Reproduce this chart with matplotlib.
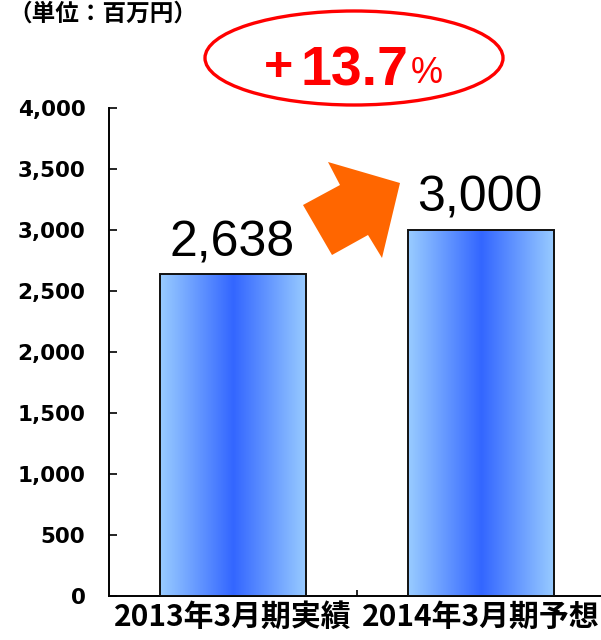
import matplotlib
matplotlib.use('Agg')
import matplotlib.pyplot as plt
import numpy as np
from matplotlib.patches import Ellipse, Polygon
from matplotlib.colors import LinearSegmentedColormap

plt.rcParams['font.family'] = ['Noto Sans CJK JP', 'DejaVu Sans']

# データ
categories = ['2013年3月期実績', '2014年3月期予想']
values = [2638, 3000]
value_labels = ['2,638', '3,000']
yticks = [0, 500, 1000, 1500, 2000, 2500, 3000, 3500, 4000]
ytick_labels = ['0', '500', '1,000', '1,500', '2,000', '2,500', '3,000', '3,500', '4,000']
growth_text = '13.7'

W, H = 601, 640
fig = plt.figure(figsize=(W / 100, H / 100), dpi=100)
ax = fig.add_axes([109 / W, 44 / H, 496 / W, 488 / H])

def fx(x):
    return x / W

def fy(y):
    return 1 - y / H

# グラデーション棒
cmap = LinearSegmentedColormap.from_list('bar', ['#99ccff', '#3366ff', '#99ccff'])
grad = np.linspace(0, 1, 256).reshape(1, -1)
x = np.arange(len(categories))
bars = ax.bar(x, values, width=0.59, facecolor='none', edgecolor='#111111', linewidth=1.4, zorder=3)
for bar in bars:
    x0, y0 = bar.get_x(), bar.get_y()
    im = ax.imshow(grad, cmap=cmap, aspect='auto', interpolation='bicubic',
                   extent=[x0, x0 + bar.get_width(), y0, y0 + bar.get_height()], zorder=2)
    im.set_clip_path(bar)

for xi, v, lab in zip(x, values, value_labels):
    ax.annotate(lab, (xi, v), xytext=(-1, 13), textcoords='offset points',
                ha='center', va='baseline', fontsize=36, fontweight='medium',
                family=['Liberation Sans', 'DejaVu Sans'], zorder=5)

ax.set_xlim(-0.5, 1.5)
ax.set_ylim(0, 4000)
ax.set_yticks(yticks)
ax.set_yticklabels(ytick_labels, fontsize=15.5, fontweight='bold', family=['DejaVu Sans'])
ax.tick_params(axis='y', direction='in', length=6, width=1.2, pad=17)

ax.set_xticks([0.5])
ax.set_xticklabels([''])
ax.tick_params(axis='x', which='major', direction='in', length=4, width=1.2)
ax.set_xticks(x, minor=True)
ax.set_xticklabels(categories, minor=True, fontsize=21.5, fontweight='bold')
ax.tick_params(axis='x', which='minor', length=0, pad=4)

for s in ['top', 'right']:
    ax.spines[s].set_visible(False)
for s in ['left', 'bottom']:
    ax.spines[s].set_linewidth(1.4)

# 単位
fig.text(fx(8), fy(2), '（単位：百万円）', fontsize=17, fontweight='bold', va='top', ha='left')

# 伸び率（赤い楕円）
fig.add_artist(Ellipse((fx(354), fy(58)), 298 / W, 94 / H, transform=fig.transFigure,
                       facecolor='none', edgecolor='#ff0000', linewidth=2.4))
fig.text(fx(279), fy(68), '+', fontsize=36, fontweight='bold', color='#ff0000',
         ha='center', va='center', family=['Liberation Sans', 'DejaVu Sans'])
fig.text(fx(300), fy(85), growth_text, fontsize=40, fontweight='bold', color='#ff0000',
         ha='left', va='baseline', family=['Liberation Sans', 'DejaVu Sans'])
fig.text(fx(411), fy(83), '%', fontsize=26, color='#ff0000', ha='left', va='baseline',
         family=['Liberation Sans', 'DejaVu Sans'])

# オレンジの矢印
arrow_px = [(400, 183), (328, 162), (340, 185), (303, 205), (332, 255), (368, 235), (382, 258)]
fig.add_artist(Polygon([(fx(a), fy(b)) for a, b in arrow_px], closed=True,
                       transform=fig.transFigure, facecolor='#ff6600', edgecolor='none'))

fig.savefig('out.png', dpi=100)
